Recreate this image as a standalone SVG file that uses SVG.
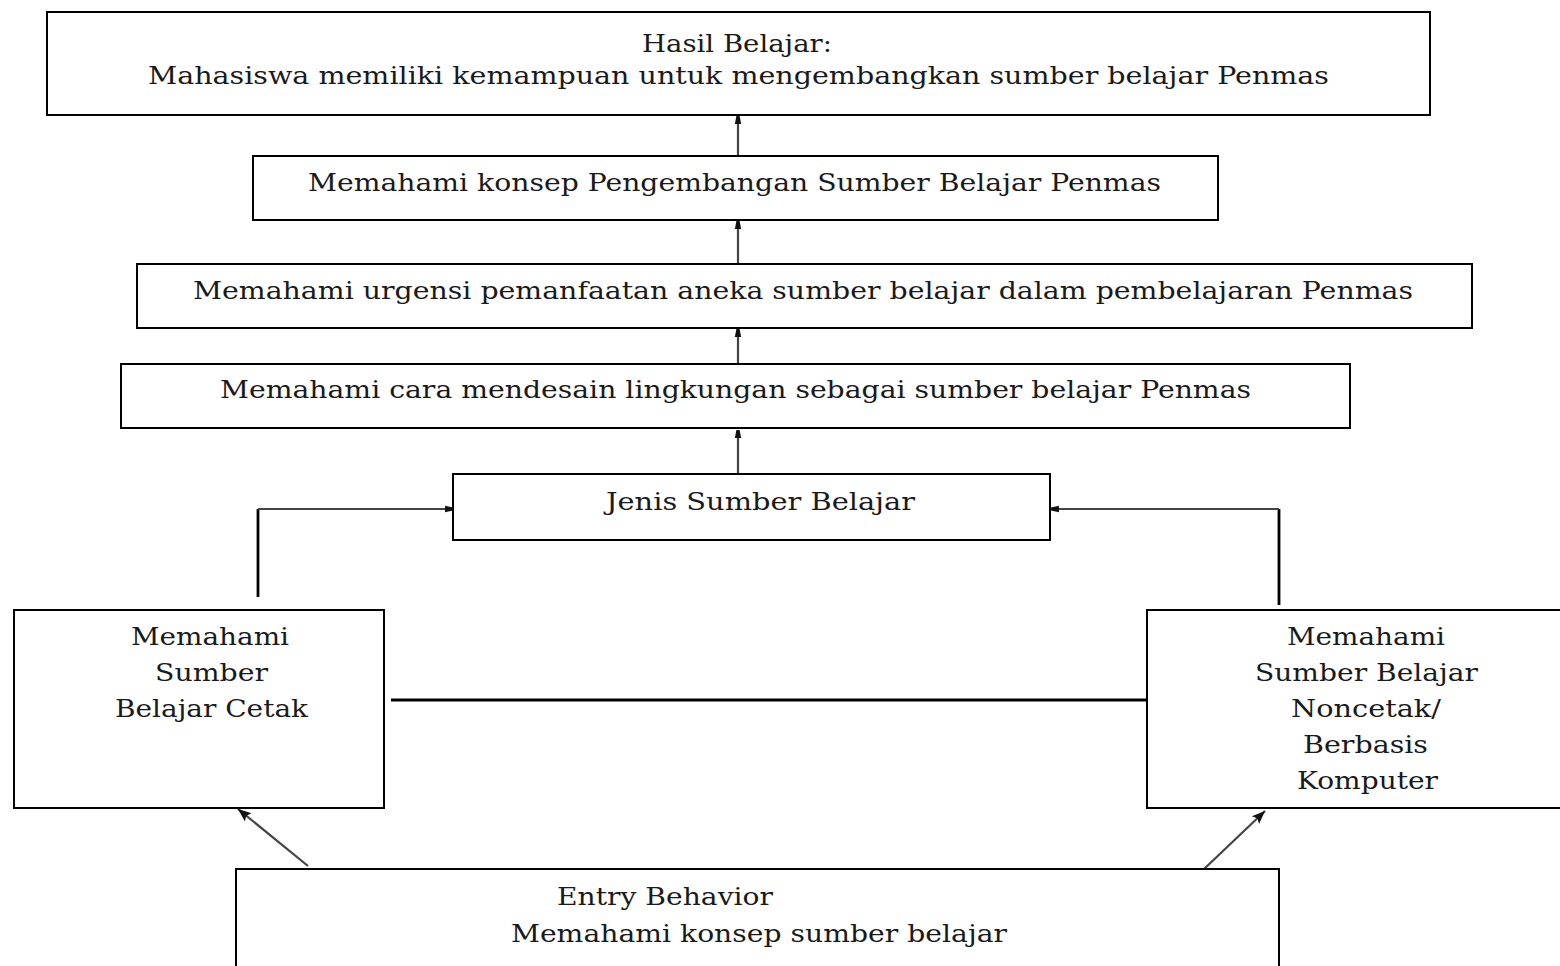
<svg xmlns="http://www.w3.org/2000/svg" width="1560" height="966" viewBox="0 0 1560 966">
<style>
.box{fill:#fff;stroke:#000;stroke-width:2}
.t{font-family:"DejaVu Serif","Liberation Serif",serif;font-size:25px;fill:#1a1a1a}
.c{fill:none;stroke:#444;stroke-width:2.2}
.k{fill:none;stroke:#000;stroke-width:2.8}
</style>
<defs>
<marker id="ah" viewBox="0 0 10 10" refX="10" refY="5" markerWidth="4" markerHeight="3.6" orient="auto" markerUnits="strokeWidth">
<path d="M0,1 L10,3 L10,7 L0,9 z" fill="#111"/>
</marker>
<marker id="ah2" viewBox="0 0 10 10" refX="10" refY="5" markerWidth="6" markerHeight="6" orient="auto" markerUnits="strokeWidth">
<path d="M0,1 L10,5 L0,9 L2,5 z" fill="#111"/>
</marker>
</defs>
<rect width="1560" height="966" fill="#fff"/>
<g id="connectors">
<line class="c" x1="738" y1="156" x2="738" y2="116" marker-end="url(#ah)"/>
<line class="c" x1="738" y1="264" x2="738" y2="221" marker-end="url(#ah)"/>
<line class="c" x1="738" y1="364" x2="738" y2="329" marker-end="url(#ah)"/>
<line class="c" x1="738" y1="474" x2="738" y2="430" marker-end="url(#ah)"/>
<line class="k" x1="258" y1="597" x2="258" y2="509"/>
<line class="c" x1="258" y1="509" x2="453" y2="509" marker-end="url(#ah)"/>
<line class="k" x1="1279" y1="605" x2="1279" y2="509"/>
<line class="c" x1="1279" y1="509" x2="1051" y2="509" marker-end="url(#ah)"/>
<line class="k" x1="391" y1="700" x2="1147" y2="700"/>
<line class="c" x1="308" y1="866" x2="238" y2="809" marker-end="url(#ah2)"/>
<line class="c" x1="1203" y1="870" x2="1265" y2="811" marker-end="url(#ah2)"/>
</g>
<g id="hasil">
<rect class="box" x="47" y="12" width="1383" height="103"/>
<text class="t" x="642" y="52" textLength="190" lengthAdjust="spacingAndGlyphs">Hasil Belajar:</text>
<text class="t" x="148" y="84" textLength="1181" lengthAdjust="spacingAndGlyphs">Mahasiswa memiliki kemampuan untuk mengembangkan sumber belajar Penmas</text>
</g>
<g id="konsep">
<rect class="box" x="253" y="156" width="965" height="64"/>
<text class="t" x="308" y="191" textLength="853" lengthAdjust="spacingAndGlyphs">Memahami konsep Pengembangan Sumber Belajar Penmas</text>
</g>
<g id="urgensi">
<rect class="box" x="137" y="264" width="1335" height="64"/>
<text class="t" x="193" y="299" textLength="1220" lengthAdjust="spacingAndGlyphs">Memahami urgensi pemanfaatan aneka sumber belajar dalam pembelajaran Penmas</text>
</g>
<g id="desain">
<rect class="box" x="121" y="364" width="1229" height="64"/>
<text class="t" x="220" y="398" textLength="1031" lengthAdjust="spacingAndGlyphs">Memahami cara mendesain lingkungan sebagai sumber belajar Penmas</text>
</g>
<g id="jenis">
<rect class="box" x="453" y="474" width="597" height="66"/>
<text class="t" x="606" y="510" textLength="309" lengthAdjust="spacingAndGlyphs">Jenis Sumber Belajar</text>
</g>
<g id="cetak">
<rect class="box" x="14" y="610" width="370" height="198"/>
<text class="t" x="131" y="645" textLength="158" lengthAdjust="spacingAndGlyphs">Memahami</text>
<text class="t" x="155" y="681" textLength="113" lengthAdjust="spacingAndGlyphs">Sumber</text>
<text class="t" x="115" y="717" textLength="193" lengthAdjust="spacingAndGlyphs">Belajar Cetak</text>
</g>
<g id="noncetak">
<rect class="box" x="1147" y="610" width="420" height="198"/>
<text class="t" x="1287" y="645" textLength="158" lengthAdjust="spacingAndGlyphs">Memahami</text>
<text class="t" x="1255" y="681" textLength="223" lengthAdjust="spacingAndGlyphs">Sumber Belajar</text>
<text class="t" x="1291" y="717" textLength="150" lengthAdjust="spacingAndGlyphs">Noncetak/</text>
<text class="t" x="1303" y="753" textLength="125" lengthAdjust="spacingAndGlyphs">Berbasis</text>
<text class="t" x="1297" y="789" textLength="141" lengthAdjust="spacingAndGlyphs">Komputer</text>
</g>
<g id="entry">
<rect class="box" x="236" y="869" width="1043" height="110"/>
<text class="t" x="557" y="905" textLength="216" lengthAdjust="spacingAndGlyphs">Entry Behavior</text>
<text class="t" x="511" y="942" textLength="496" lengthAdjust="spacingAndGlyphs">Memahami konsep sumber belajar</text>
</g>
</svg>
